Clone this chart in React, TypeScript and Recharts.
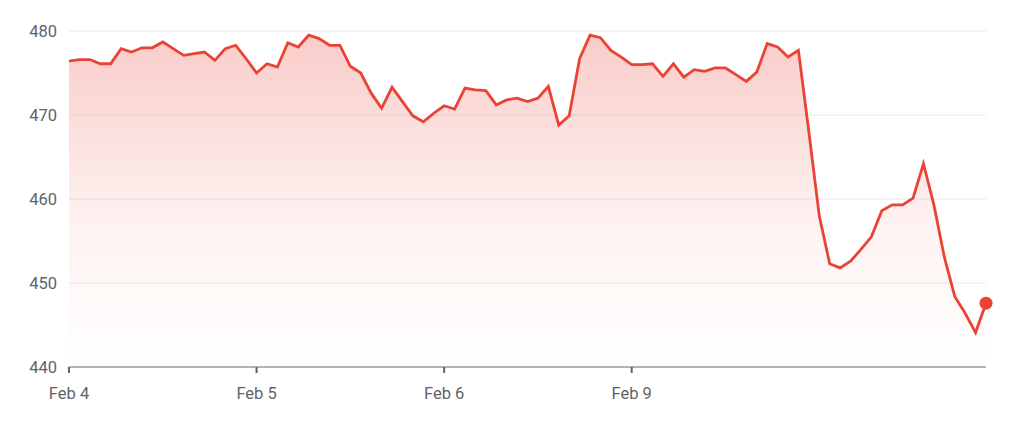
import { AreaChart, Area, XAxis, YAxis, CartesianGrid } from "recharts";

// one price every ~20 min, 18 per session; the last session is still open
const prices = [
  476.4, 476.6, 476.6, 476.1, 476.1, 477.9, 477.5, 478.0, 478.0, 478.7,
  477.9, 477.1, 477.3, 477.5, 476.5, 477.9, 478.3, 476.7, 475.0, 476.1,
  475.7, 478.6, 478.1, 479.5, 479.1, 478.3, 478.3, 475.8, 475.0, 472.6,
  470.8, 473.3, 471.6, 469.9, 469.2, 470.2, 471.1, 470.7, 473.2, 473.0,
  472.9, 471.2, 471.8, 472.0, 471.6, 472.0, 473.4, 468.8, 469.9, 476.7,
  479.5, 479.2, 477.7, 476.9, 476.0, 476.0, 476.1, 474.6, 476.1, 474.5,
  475.4, 475.2, 475.6, 475.6, 474.8, 474.0, 475.1, 478.5, 478.1, 476.9,
  477.7, 468.0, 458.0, 452.3, 451.8, 452.6, 454.0, 455.5, 458.6, 459.3,
  459.3, 460.1, 464.2, 459.3, 453.1, 448.4, 446.4, 444.1, 447.6,
];

const dayLabels = ["Feb 4", "Feb 5", "Feb 6", "Feb 9"];
const dayStarts = [0, 18, 36, 54];
const yTicks = [440, 450, 460, 470, 480];

const data = prices.map((price, i) => ({ i, price }));

const RED = "#ea4335";
const LABEL = "#5f6368";

function LastDot(props: any) {
  const { cx, cy, index } = props;
  if (index !== prices.length - 1) return null;
  return <circle cx={cx} cy={cy} r={6.5} fill={RED} stroke="none" />;
}

export default function App() {
  return (
    <div style={{ position: "absolute", left: 0, top: 0 }}>
      <AreaChart
        width={1025}
        height={422}
        data={data}
        margin={{ top: 31, right: 39, bottom: 0, left: 0 }}
      >
        <defs>
          <linearGradient id="fillRed" x1="0" y1="0" x2="0" y2="1">
            <stop offset="0%" stopColor={RED} stopOpacity={0.45} />
            <stop offset="55%" stopColor={RED} stopOpacity={0.12} />
            <stop offset="100%" stopColor={RED} stopOpacity={0} />
          </linearGradient>
        </defs>
        <CartesianGrid vertical={false} stroke="#f1f1f1" strokeWidth={1.5} />
        <XAxis
          dataKey="i"
          type="number"
          domain={[0, prices.length - 1]}
          ticks={dayStarts}
          tickFormatter={(v: number) => dayLabels[dayStarts.indexOf(v)] ?? ""}
          height={55}
          axisLine={{ stroke: "#9e9e9e", strokeWidth: 1.5 }}
          tickLine={{ stroke: LABEL, strokeWidth: 2 }}
          tickSize={6}
          tickMargin={14}
          tick={{ fill: LABEL, fontSize: 16.5, fontFamily: "Roboto" }}
        />
        <YAxis
          domain={[440, 480]}
          ticks={yTicks}
          width={69}
          axisLine={false}
          tickLine={false}
          tickSize={6}
          tickMargin={6}
          tick={{ fill: LABEL, fontSize: 16.5, fontFamily: "Roboto" }}
        />
        <Area
          type="linear"
          dataKey="price"
          baseValue={440}
          stroke={RED}
          strokeWidth={2.8}
          fill="url(#fillRed)"
          dot={<LastDot />}
          activeDot={false}
          isAnimationActive={false}
        />
      </AreaChart>
    </div>
  );
}
